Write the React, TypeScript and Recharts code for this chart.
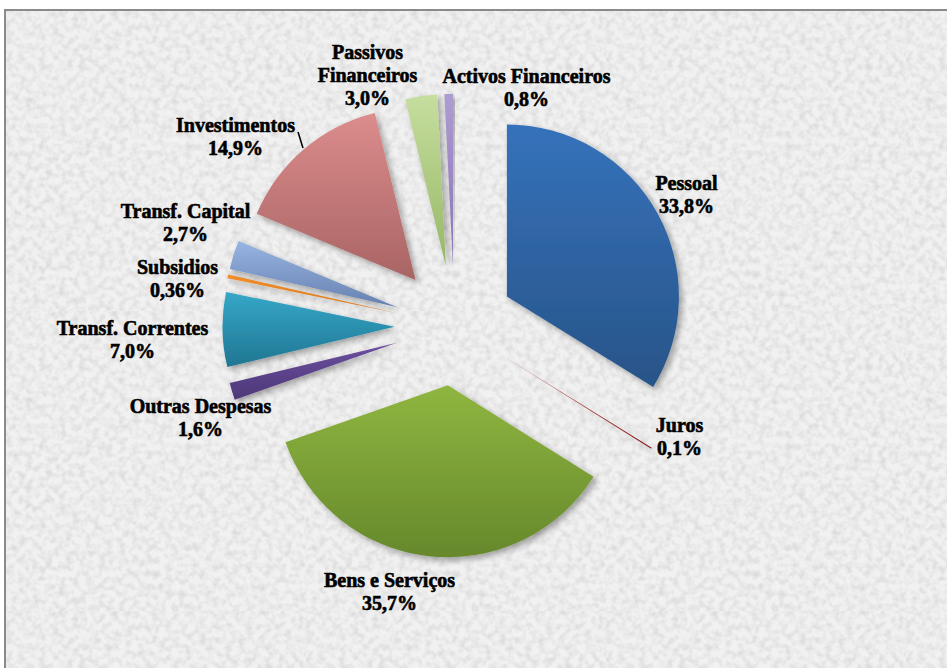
import React from 'react';
import { PieChart, Pie, Cell } from 'recharts';

const categories = [
  'Pessoal',
  'Juros',
  'Bens e Serviços',
  'Outras Despesas',
  'Transf. Correntes',
  'Subsidios',
  'Transf. Capital',
  'Investimentos',
  'Passivos Financeiros',
  'Activos Financeiros',
];
const shares = [33.8, 0.1, 35.7, 1.6, 7.0, 0.36, 2.7, 14.9, 3.0, 0.8];
const shareLabels = ['33,8%', '0,1%', '35,7%', '1,6%', '7,0%', '0,36%', '2,7%', '14,9%', '3,0%', '0,8%'];

const data = categories.map((name, i) => ({ name, value: shares[i], pct: shareLabels[i] }));

// styling
const GRADIENTS: [string, string][] = [
  ['#3572bb', '#285488'],
  ['#b32a2a', '#861818'],
  ['#8fb640', '#66882c'],
  ['#6c4fa0', '#4d3878'],
  ['#36a7c8', '#1f7692'],
  ['#f5912e', '#e07a18'],
  ['#97b4e2', '#6780b0'],
  ['#dc8c8c', '#a96464'],
  ['#c6de9e', '#96b765'],
  ['#ad9cd2', '#8a72b4'],
];

const CX = 454.5;
const CY = 325.7;
const R = 172;
const EXPLODE = 60;
const RAD = Math.PI / 180;
const FONT = '"Liberation Serif", "Times New Roman", serif';

// label block centre offsets from pie centre (layout)
const LABEL_OFFSETS: [number, number][] = [
  [232, -131],
  [225, 111],
  [-65, 266],
  [-254, 92],
  [-322, 14],
  [-277, -47],
  [-269, -103],
  [-219, -189],
  [-87, -251],
  [72, -238],
];

const total = shares.reduce((a, b) => a + b, 0);
const mids: number[] = (() => {
  let cum = 0;
  return shares.map((v) => {
    const start = 90 - (cum / total) * 360;
    cum += v;
    const end = 90 - (cum / total) * 360;
    return (start + end) / 2;
  });
})();

const splitName = (name: string) =>
  name === 'Passivos Financeiros' ? ['Passivos', 'Financeiros'] : [name];

const renderLabel = (props: any) => {
  const { index } = props;
  const d = data[index];
  const lines = [...splitName(d.name), d.pct];
  const [ox, oy] = LABEL_OFFSETS[index];
  const x = CX + ox;
  const y = CY + oy;
  const lh = 23;
  return (
    <g key={`lbl-${index}`}>
      {index === 7 && (
        <line x1={CX - 156.5} y1={CY - 193.7} x2={CX - 151.5} y2={CY - 177.7} stroke="#000" strokeWidth={1.5} />
      )}
      <text
        x={x}
        y={y}
        textAnchor="middle"
        style={{ fontFamily: FONT, fontWeight: 700, fontSize: 20, fill: '#000', stroke: '#000', strokeWidth: 0.6 }}
      >
        {lines.map((t, i) => (
          <tspan key={i} x={x} y={y + (i - (lines.length - 1) / 2) * lh} dominantBaseline="central">
            {t}
          </tspan>
        ))}
      </text>
    </g>
  );
};

const noiseSvg = `<svg xmlns='http://www.w3.org/2000/svg' width='300' height='300'><filter id='n'><feTurbulence type='fractalNoise' baseFrequency='0.15' numOctaves='2' seed='7' stitchTiles='stitch'/><feColorMatrix type='matrix' values='0 0 0 0 0.6  0 0 0 0 0.6  0 0 0 0 0.6  1.25 0 0 0 -0.48'/></filter><rect width='300' height='300' fill='#f1f1f1'/><rect width='300' height='300' filter='url(#n)'/></svg>`;
const noiseUrl = `url("data:image/svg+xml;utf8,${noiseSvg.replace(/#/g, '%23')}")`;

export default function App() {
  return (
    <div style={{ position: 'absolute', left: 0, top: 0, width: 947, height: 668, overflow: 'hidden', background: '#fff', fontFamily: FONT }}>
      <div
        style={{
          position: 'absolute',
          left: 4,
          top: 9,
          width: 960,
          height: 680,
          border: '2px solid #8a8a8a',
          backgroundColor: '#ececec',
          backgroundImage: noiseUrl,
        }}
      />
      <div style={{ position: 'absolute', left: 0, top: 0 }}>
        <PieChart width={947} height={668} margin={{ top: 0, right: 0, bottom: 0, left: 0 }}>
          <defs>
            {GRADIENTS.map(([a, b], i) => (
              <linearGradient key={i} id={`g${i}`} x1="0" y1="0" x2="0" y2="1">
                <stop offset="0%" stopColor={a} />
                <stop offset="100%" stopColor={b} />
              </linearGradient>
            ))}
            <filter id="sh" x="-20%" y="-20%" width="140%" height="140%">
              <feDropShadow dx="3" dy="3" stdDeviation="3" floodColor="#000" floodOpacity="0.35" />
            </filter>
          </defs>
          {data.map((_, k) => {
            const m = mids[k];
            const cx = CX + EXPLODE * Math.cos(m * RAD);
            const cy = CY - EXPLODE * Math.sin(m * RAD);
            return (
              <Pie
                key={`p${k}`}
                data={data}
                dataKey="value"
                nameKey="name"
                cx={cx}
                cy={cy}
                outerRadius={R}
                innerRadius={0}
                startAngle={90}
                endAngle={-270}
                stroke="none"
                isAnimationActive={false}
                labelLine={false}
                label={false}
              >
                {data.map((__, i) => (
                  <Cell
                    key={i}
                    fill={i === k ? `url(#g${i})` : 'none'}
                    stroke="none"
                    style={i === k ? { filter: 'url(#sh)' } : undefined}
                  />
                ))}
              </Pie>
            );
          })}
          <Pie
            data={data}
            dataKey="value"
            nameKey="name"
            cx={CX}
            cy={CY}
            outerRadius={R}
            startAngle={90}
            endAngle={-270}
            fill="none"
            stroke="none"
            isAnimationActive={false}
            labelLine={false}
            label={renderLabel}
          >
            {data.map((__, i) => (
              <Cell key={i} fill="none" stroke="none" />
            ))}
          </Pie>
        </PieChart>
      </div>
    </div>
  );
}
